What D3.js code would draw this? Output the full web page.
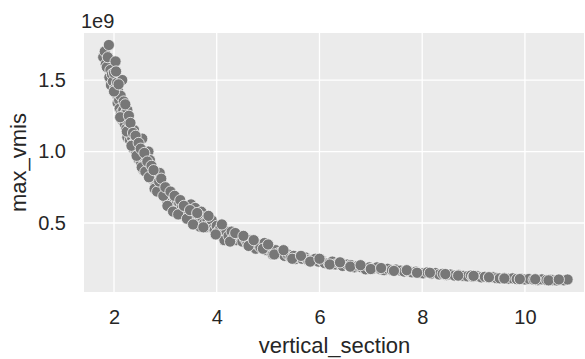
<!DOCTYPE html>
<html lang="en">
    <head>
        <title>max_vmis vs vertical_section</title>
        <script src="https://d3js.org/d3.v7.min.js"></script>
        <style>
            body { margin: 0; background: #fff; }
            text { font-family: "Liberation Sans", Arial, sans-serif; fill: #262626; }
        </style>
    </head>
    <body>
    <div id="mainDiv"></div>

        <script type="text/javascript">
            const width = 585
            const height = 359

            const margins = {
                top: 33,
                bottom: 67,
                left: 84,
                right: 1
            }

            // tick positions
            const xTicks = [2, 4, 6, 8, 10]
            const yTicks = [0.5, 1.0, 1.5]

            // vertical_section
            const verticalSection = [
                1.79, 1.82, 1.84, 1.86, 1.88, 1.90, 1.91, 1.93, 1.94, 1.96, 1.98, 2.00, 2.02, 2.03, 2.05, 2.06,
                2.07, 2.08, 2.10, 2.11, 2.13, 2.14, 2.16, 2.16, 2.18, 2.20, 2.21, 2.23, 2.24, 2.26, 2.26, 2.28,
                2.30, 2.31, 2.33, 2.35, 2.36, 2.38, 2.39, 2.41, 2.43, 2.45, 2.47, 2.49, 2.51, 2.53, 2.55, 2.57,
                2.58, 2.60, 2.62, 2.64, 2.66, 2.67, 2.69, 2.70, 2.72, 2.74, 2.76, 2.78, 2.80, 2.81, 2.83, 2.85,
                2.87, 2.89, 2.91, 2.93, 2.95, 2.97, 2.99, 3.01, 3.03, 3.05, 3.07, 3.09, 3.12, 3.14, 3.16, 3.19,
                3.21, 3.24, 3.27, 3.30, 3.32, 3.34, 3.37, 3.40, 3.43, 3.46, 3.50, 3.52, 3.55, 3.58, 3.60, 3.63,
                3.67, 3.67, 3.70, 3.72, 3.76, 3.79, 3.82, 3.86, 3.90, 3.93, 3.96, 4.00, 4.03, 4.07, 4.12, 4.15,
                4.19, 4.23, 4.29, 4.33, 4.38, 4.42, 4.48, 4.50, 4.55, 4.60, 4.65, 4.70, 4.76, 4.80, 4.85, 4.93,
                4.97, 5.02, 5.07, 5.09, 5.15, 5.21, 5.27, 5.32, 5.38, 5.44, 5.50, 5.53, 5.60, 5.66, 5.72, 5.78,
                5.86, 5.92, 5.98, 6.04, 6.10, 6.18, 6.25, 6.31, 6.38, 6.45, 6.54, 6.61, 6.68, 6.75, 6.82, 6.90,
                6.97, 7.04, 7.12, 7.19, 7.26, 7.33, 7.41, 7.49, 7.58, 7.65, 7.72, 7.80, 7.88, 7.96, 8.02, 8.10,
                8.18, 8.26, 8.33, 8.40, 8.47, 8.55, 8.63, 8.71, 8.80, 8.88, 8.95, 8.99, 9.07, 9.15, 9.22, 9.30,
                9.38, 9.45, 9.51, 9.60, 9.68, 9.76, 9.84, 9.92, 10.00, 10.08, 10.17, 10.25, 10.33, 10.42, 10.50, 10.54,
                10.62, 10.70, 10.76, 10.83,
                2.00, 2.04, 2.09, 2.12, 2.19, 2.22, 2.25, 2.29, 2.32, 2.34, 2.37, 2.42, 2.44, 2.48, 2.52, 2.54,
                2.59, 2.61, 2.65, 2.68, 2.73, 2.77, 2.79, 2.84, 2.88, 2.92, 2.96, 3.00, 3.04, 3.10, 3.15, 3.18,
                3.25, 3.29, 3.36, 3.42, 3.48, 3.54, 3.62, 3.74, 3.84, 3.98, 4.10, 4.26, 4.36, 4.52, 4.62, 4.72,
                4.90, 5.00, 5.12, 5.30, 5.47, 5.64, 5.82, 6.00, 6.20, 6.40, 6.60, 6.80, 7.00, 7.20, 7.45, 7.70,
                7.90, 8.15, 8.45, 8.70, 9.00, 9.30, 9.60, 9.90, 10.20, 10.46, 10.66
            ]

            // max_vmis in units of 1e9
            const maxVmis = [
                1.66, 1.70, 1.61, 1.59, 1.66, 1.745, 1.52, 1.57, 1.465, 1.54, 1.49, 1.55, 1.44, 1.63, 1.40, 1.48,
                1.34, 1.42, 1.36, 1.30, 1.39, 1.27, 1.50, 1.22, 1.29, 1.25, 1.19, 1.27, 1.16, 1.10, 1.29, 1.21,
                1.14, 1.08, 1.17, 1.10, 1.05, 1.02, 1.15, 1.06, 0.99, 1.05, 0.95, 1.01, 0.97, 0.92, 1.09, 0.87,
                0.95, 0.91, 0.96, 0.88, 0.85, 1.00, 0.89, 0.94, 0.83, 0.86, 0.80, 0.84, 0.79, 0.76, 0.82, 0.78,
                0.74, 0.85, 0.75, 0.72, 0.71, 0.76, 0.68, 0.72, 0.66, 0.70, 0.67, 0.63, 0.70, 0.65, 0.61, 0.66,
                0.63, 0.60, 0.64, 0.59, 0.62, 0.58, 0.56, 0.60, 0.57, 0.54, 0.63, 0.56, 0.52, 0.605, 0.55, 0.51,
                0.475, 0.52, 0.579, 0.54, 0.50, 0.47, 0.52, 0.49, 0.521, 0.46, 0.45, 0.48, 0.44, 0.46, 0.42, 0.38,
                0.44, 0.41, 0.44, 0.40, 0.38, 0.41, 0.404, 0.37, 0.39, 0.36, 0.38, 0.35, 0.32, 0.35, 0.33, 0.36,
                0.31, 0.33, 0.30, 0.28, 0.31, 0.29, 0.30, 0.27, 0.28, 0.26, 0.27, 0.248, 0.26, 0.25, 0.26, 0.24,
                0.241, 0.25, 0.23, 0.24, 0.22, 0.218, 0.23, 0.21, 0.22, 0.20, 0.21, 0.206, 0.19, 0.20, 0.19, 0.176,
                0.19, 0.18, 0.19, 0.176, 0.17, 0.18, 0.17, 0.175, 0.167, 0.16, 0.165, 0.155, 0.16, 0.15, 0.148, 0.155,
                0.145, 0.15, 0.14, 0.145, 0.136, 0.14, 0.132, 0.138, 0.13, 0.127, 0.133, 0.124, 0.128, 0.12, 0.124, 0.117,
                0.121, 0.114, 0.113, 0.117, 0.11, 0.113, 0.108, 0.112, 0.105, 0.109, 0.104, 0.10, 0.106, 0.101, 0.104, 0.10,
                0.098, 0.103, 0.099, 0.105,
                1.42, 1.56, 1.47, 1.24, 1.35, 1.33, 1.14, 1.25, 1.20, 1.04, 1.13, 1.11, 0.97, 1.06, 1.02, 0.89,
                0.99, 0.86, 0.93, 0.82, 0.90, 0.87, 0.74, 0.72, 0.79, 0.81, 0.69, 0.75, 0.62, 0.72, 0.58, 0.69,
                0.56, 0.66, 0.62, 0.53, 0.59, 0.49, 0.57, 0.47, 0.55, 0.42, 0.49, 0.37, 0.43, 0.41, 0.34, 0.38,
                0.32, 0.35, 0.28, 0.31, 0.25, 0.27, 0.23, 0.25, 0.21, 0.225, 0.195, 0.205, 0.178, 0.185, 0.165, 0.17,
                0.152, 0.152, 0.143, 0.132, 0.13, 0.121, 0.112, 0.108, 0.107, 0.099, 0.105
            ]

            const dataset = verticalSection.map((x, i) => ({ x: x, y: maxVmis[i] }))

            const svg = d3.select('#mainDiv').append('svg')
                .attr('width', width)
                .attr('height', height)

            const xScale = d3.scaleLinear()
                .domain([1.416, 11.15])
                .range([margins.left, width - margins.right])

            const yScale = d3.scaleLinear()
                .domain([0.0175, 1.829])
                .range([height - margins.bottom, margins.top])

            // plot background
            svg.append('rect')
                .attr('x', margins.left)
                .attr('y', margins.top)
                .attr('width', width - margins.left - margins.right)
                .attr('height', height - margins.top - margins.bottom)
                .attr('fill', '#ebebeb')

            // grid lines
            svg.append('g')
                .selectAll('line')
                .data(xTicks)
                .join('line')
                .attr('x1', d => xScale(d))
                .attr('x2', d => xScale(d))
                .attr('y1', margins.top)
                .attr('y2', height - margins.bottom)
                .attr('stroke', '#fff')
                .attr('stroke-width', 1.3)
            svg.append('g')
                .selectAll('line')
                .data(yTicks)
                .join('line')
                .attr('x1', margins.left)
                .attr('x2', width - margins.right)
                .attr('y1', d => yScale(d))
                .attr('y2', d => yScale(d))
                .attr('stroke', '#fff')
                .attr('stroke-width', 1.3)

            // points
            svg.append('g')
                .selectAll('circle')
                .data(dataset)
                .join('circle')
                .attr('cx', d => xScale(d.x))
                .attr('cy', d => yScale(d.y))
                .attr('r', 5.6)
                .attr('fill', '#777777')
                .attr('stroke', '#f4f4f4')
                .attr('stroke-width', 0.8)

            // axes, ticks hidden like seaborn darkgrid
            const xAxis = d3.axisBottom(xScale).tickValues(xTicks).tickSize(0).tickPadding(18).tickFormat(d3.format('d'))
            const yAxis = d3.axisLeft(yScale).tickValues(yTicks).tickSize(0).tickPadding(18).tickFormat(d3.format('.1f'))

            svg.append('g')
                .attr('transform', `translate(0, ${height - margins.bottom})`)
                .call(xAxis)
            svg.append('g')
                .attr('transform', `translate(${margins.left}, 0)`)
                .call(yAxis)

            svg.selectAll('.domain').remove()
            svg.selectAll('.tick text')
                .style('font-family', '"Liberation Sans", Arial, sans-serif')
                .style('font-size', '20px')
                .attr('fill', '#262626')

            // offset text
            svg.append('text')
                .attr('x', 81)
                .attr('y', 28)
                .style('font-size', '20px')
                .text('1e9')

            // axis labels
            svg.append('text')
                .attr('x', xScale(6) + 15)
                .attr('y', 353)
                .attr('text-anchor', 'middle')
                .style('font-size', '22px')
                .text('vertical_section')

            svg.append('text')
                .attr('transform', `translate(26, ${(margins.top + height - margins.bottom) / 2}) rotate(-90)`)
                .attr('text-anchor', 'middle')
                .style('font-size', '22px')
                .text('max_vmis')
        </script>
    </body>
</html>
